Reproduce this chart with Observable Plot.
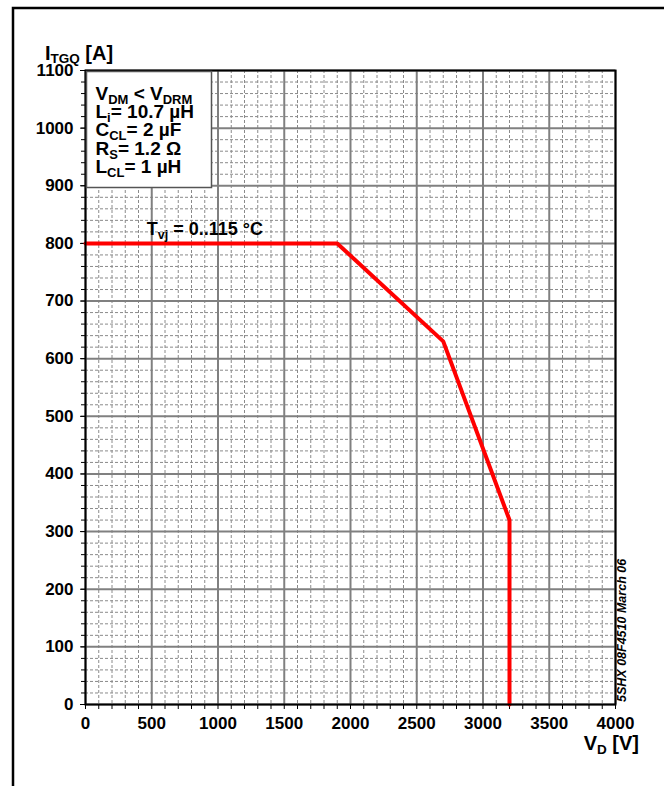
<!DOCTYPE html>
<html>
<head>
<meta charset="utf-8">
<script src="https://cdn.jsdelivr.net/npm/d3@7"></script>
<script src="https://cdn.jsdelivr.net/npm/@observablehq/plot@0.6"></script>
<style>
  html, body { margin: 0; padding: 0; background: white; }
  svg { display: block; }
</style>
</head>
<body>
<div id="chart"></div>
<script>
// ---- data ----
const voltage = [0, 1900, 2700, 3200, 3200];      // V_D [V]
const current = [800, 800, 630, 320, 0];          // I_TGQ [A]
const xMajorTicks = [0, 500, 1000, 1500, 2000, 2500, 3000, 3500, 4000];
const yMajorTicks = [0, 100, 200, 300, 400, 500, 600, 700, 800, 900, 1000, 1100];
const xMinorStep = 100;
const yMinorStep = 20;
const legendLines = [
  [["V", 0], ["DM", 1], [" < V", 0], ["DRM", 1]],
  [["L", 0], ["i", 1], ["= 10.7 µH", 0]],
  [["C", 0], ["CL", 1], ["= 2 µF", 0]],
  [["R", 0], ["S", 1], ["= 1.2 Ω", 0]],
  [["L", 0], ["CL", 1], ["= 1 µH", 0]]
];
const curveLabel = [["T", 0], ["vj", 1], [" = 0..115 °C", 0]];
const curveLabelAt = { x: 466, y: 800 };
const yTitle = [["I", 0], ["TGQ", 1], [" [A]", 0]];
const xTitle = [["V", 0], ["D", 1], [" [V]", 0]];
const sideNote = "5SHX 08F4510 March 06";

const points = voltage.map((v, i) => ({ v, i: current[i] }));
const xMinor = d3.range(0, 4001, xMinorStep).filter(d => d % 500 !== 0);
const yMinor = d3.range(0, 1101, yMinorStep).filter(d => d % 100 !== 0);
const xAllTicks = d3.range(0, 4001, xMinorStep);
const yAllTicks = d3.range(0, 1101, yMinorStep);

const FONT = "'Liberation Sans', Arial, Helvetica, sans-serif";

const chart = Plot.plot({
  width: 664,
  height: 786,
  marginLeft: 85,
  marginRight: 49,
  marginTop: 70,
  marginBottom: 82,
  style: { fontFamily: FONT, fontSize: "17px", fontWeight: "bold", background: "white", color: "black" },
  x: { domain: [0, 4000] },
  y: { domain: [0, 1100] },
  marks: [
    Plot.gridX(xMinor, { stroke: "#8a8a8a", strokeOpacity: 1, strokeWidth: 1, strokeDasharray: "3,2" }),
    Plot.gridY(yMinor, { stroke: "#8a8a8a", strokeOpacity: 1, strokeWidth: 1, strokeDasharray: "3,2" }),
    Plot.gridX(xMajorTicks, { stroke: "#808080", strokeOpacity: 1, strokeWidth: 2 }),
    Plot.gridY(yMajorTicks, { stroke: "#808080", strokeOpacity: 1, strokeWidth: 2 }),
    Plot.axisX(xAllTicks, { tickSize: 5, text: null, label: null, stroke: "black", strokeWidth: 1 }),
    Plot.axisY(yAllTicks, { tickSize: 4, text: null, label: null, stroke: "black", strokeWidth: 1 }),
    Plot.axisX(xMajorTicks, { tickSize: 0, tickPadding: 12, label: null, tickFormat: d => String(d), fontSize: 17, fontWeight: "bold" }),
    Plot.axisY(yMajorTicks, { tickSize: 5, tickPadding: 7, label: null, tickFormat: d => String(d), fontSize: 17, fontWeight: "bold" }),
    Plot.line(points, { x: "v", y: "i", stroke: "#ff0000", strokeWidth: 4, strokeLinejoin: "miter" }),
    Plot.frame({ stroke: "black", strokeWidth: 2 })
  ]
});

document.getElementById("chart").append(chart);

const svg = d3.select(chart);
const xs = chart.scale("x");
const ys = chart.scale("y");
const fLeft = xs.apply(0), fRight = xs.apply(4000);
const fTop = ys.apply(1100), fBottom = ys.apply(0);

function rich(sel, parts, size, subSize, shift) {
  sel.style("font-size", size + "px").style("font-family", FONT).style("font-weight", "bold")
     .attr("text-anchor", sel.attr("text-anchor") || "start").attr("fill", "black");
  let state = 0;
  parts.forEach(([t, sub]) => {
    const ts = sel.append("tspan").text(t);
    if (sub && !state) { ts.style("font-size", subSize + "px").attr("dy", shift); state = 1; }
    else if (sub && state) { ts.style("font-size", subSize + "px"); }
    else if (!sub && state) { ts.style("font-size", size + "px").attr("dy", -shift); state = 0; }
    else ts.style("font-size", size + "px");
  });
}

// outer page frame
svg.insert("rect", ":first-child")
  .attr("x", 13).attr("y", 8)
  .attr("width", fRight + 44).attr("height", 800)
  .attr("fill", "none").attr("stroke", "black").attr("stroke-width", 2.5);

// legend box
const g = svg.append("g").attr("text-anchor", "start");
g.append("rect")
  .attr("x", fLeft + 1.5).attr("y", fTop + 1.5)
  .attr("width", 125).attr("height", 116)
  .attr("fill", "white").attr("stroke", "#555").attr("stroke-width", 1.5);
legendLines.forEach((line, k) => {
  const t = g.append("text")
    .attr("x", fLeft + 10.5).attr("y", fTop + 30 + k * 18.2)
    .attr("text-anchor", "start");
  rich(t, line, 19, 13, 4);
});

// curve label
const cl = svg.append("text")
  .attr("x", xs.apply(curveLabelAt.x)).attr("y", ys.apply(curveLabelAt.y) - 8)
  .attr("text-anchor", "start");
rich(cl, curveLabel, 18, 12.5, 4);

// axis titles
const yt = svg.append("text")
  .attr("x", fLeft - 40).attr("y", fTop - 10)
  .attr("text-anchor", "start");
rich(yt, yTitle, 20, 13.5, 3);
const xt = svg.append("text")
  .attr("x", fRight + 24).attr("y", fBottom + 46)
  .attr("text-anchor", "end");
rich(xt, xTitle, 20, 13.5, 4);

// side note
svg.append("text")
  .attr("transform", `translate(${fRight + 10.5},${fBottom - 2}) rotate(-90)`)
  .attr("text-anchor", "start")
  .style("font-family", FONT).style("font-weight", "bold").style("font-style", "italic")
  .style("font-size", "12.5px").attr("fill", "black")
  .text(sideNote);
</script>
</body>
</html>
